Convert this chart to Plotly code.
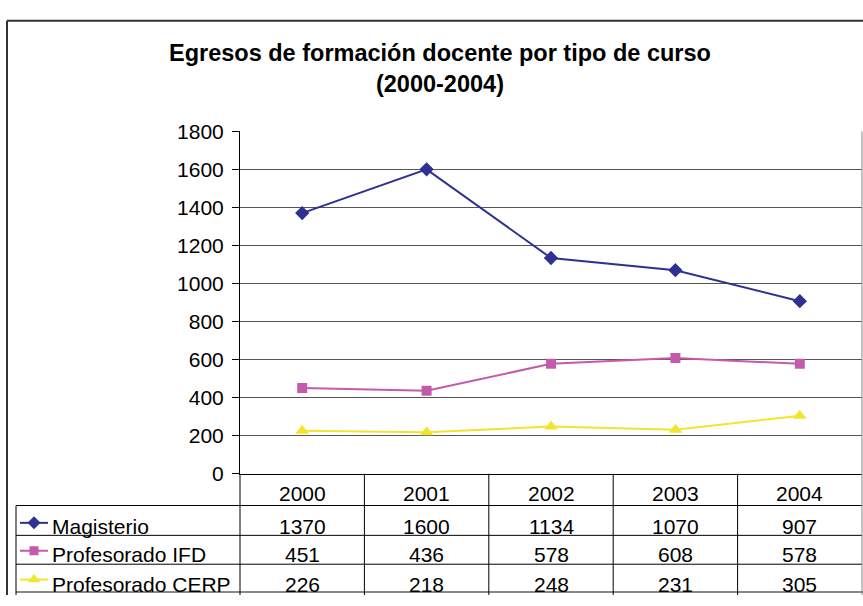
import plotly.graph_objects as go

# ---- data -------------------------------------------------------------
years = ["2000", "2001", "2002", "2003", "2004"]
series_names = ["Magisterio", "Profesorado IFD", "Profesorado CERP"]
magisterio = [1370, 1600, 1134, 1070, 907]
profesorado_ifd = [451, 436, 578, 608, 578]
profesorado_cerp = [226, 218, 248, 231, 305]
y_ticks = [0, 200, 400, 600, 800, 1000, 1200, 1400, 1600, 1800]

title_text = "Egresos de formación docente por tipo de curso<br>(2000-2004)"

# ---- styling ----------------------------------------------------------
W, H = 863, 606
FONT = "Liberation Sans, Arial, sans-serif"
colors = ["#2E3192", "#C45BAA", "#F2E530"]
symbols = ["diamond", "square", "triangle-up"]
marker_sizes = [11, 10, 12]
values = [magisterio, profesorado_ifd, profesorado_cerp]


def fx(px):
    return px / W


def fy(py):
    return 1 - py / H


# plot area and data-table geometry (pixels)
PL, PR, PT, PB = 240, 862, 124, 480
TABLE_LEFT = 16
row_lines = [513, 544, 574]
header_text_y = 501
row_text_y = [535, 564, 595]
key_y = [531, 560, 590]
band = (PR - PL) / len(years)

fig = go.Figure()

for name, vals, c, s, ms in zip(series_names, values, colors, symbols, marker_sizes):
    fig.add_trace(go.Scatter(
        x=years, y=vals, name=name, mode="lines+markers",
        line=dict(color=c, width=2),
        marker=dict(symbol=s, size=ms, color=c),
        showlegend=False, xaxis="x", yaxis="y",
    ))

# legend keys inside the data table (pixel overlay axes)
for i, (c, s, ms) in enumerate(zip(colors, symbols, marker_sizes)):
    fig.add_trace(go.Scatter(
        x=[20, 48], y=[key_y[i], key_y[i]], mode="lines",
        line=dict(color=c, width=2), showlegend=False,
        hoverinfo="skip", xaxis="x2", yaxis="y2",
    ))
    fig.add_trace(go.Scatter(
        x=[34], y=[key_y[i]], mode="markers",
        marker=dict(symbol=s, size=ms - 1, color=c), showlegend=False,
        hoverinfo="skip", xaxis="x2", yaxis="y2",
    ))

annotations = [
    dict(text="<b>" + title_text + "</b>", x=fx(440), y=fy(59), xref="paper",
         yref="paper", xanchor="center", yanchor="middle", showarrow=False,
         font=dict(family=FONT, size=23.5, color="#000")),
]

# data table header: one year per category column
for j, yr in enumerate(years):
    annotations.append(dict(
        text=yr, x=j, y=fy(header_text_y), xref="x", yref="paper",
        xanchor="center", yanchor="middle", showarrow=False,
        font=dict(family=FONT, size=21, color="#000")))

# data table rows: series label and values (placed by category index)
for i, (name, vals) in enumerate(zip(series_names, values)):
    annotations.append(dict(
        text=name, x=fx(50), y=fy(row_text_y[i]), xref="paper", yref="paper",
        xanchor="left", yanchor="middle", showarrow=False,
        font=dict(family=FONT, size=21, color="#000")))
    for j, v in enumerate(vals):
        annotations.append(dict(
            text=str(v), x=j, y=fy(row_text_y[i]), xref="x", yref="paper",
            xanchor="center", yanchor="middle", showarrow=False,
            font=dict(family=FONT, size=21, color="#000")))


def line(x0, y0, x1, y1, color="#000", width=1):
    return dict(type="line", xref="paper", yref="paper",
                x0=fx(x0), y0=fy(y0), x1=fx(x1), y1=fy(y1),
                line=dict(color=color, width=width))


shapes = [
    # outer chart border
    line(7, 9, 7, H, "#333", 2),
    line(7, 9, W, 9, "#333", 2),
    # plot area right edge
    line(PR, PT, PR, PB, "#888", 1),
    # table bottom
    line(TABLE_LEFT, 603, W, 603, "#888", 2),
    # table left edge
    line(TABLE_LEFT, row_lines[0], TABLE_LEFT, H, "#000", 1),
]
for ry in row_lines:
    shapes.append(line(TABLE_LEFT, ry, PR, ry))
for k in range(len(years) + 1):
    xk = PL + k * band
    shapes.append(line(xk, PB, xk, H, "#000" if k < len(years) else "#888", 1))

fig.update_layout(
    width=W, height=H,
    margin=dict(l=0, r=0, t=0, b=0),
    paper_bgcolor="#fff", plot_bgcolor="rgba(0,0,0,0)",
    font=dict(family=FONT, size=20, color="#000"),
    xaxis=dict(
        domain=[fx(PL), fx(PR)], type="category", categoryorder="array",
        categoryarray=years, range=[-0.5, len(years) - 0.5],
        showgrid=False, zeroline=False, showline=True, linecolor="#000",
        linewidth=1, ticks="", showticklabels=False,
        anchor="y",
    ),
    yaxis=dict(
        domain=[fy(PB), fy(PT)], range=[0, 1800], tickvals=y_ticks,
        showgrid=True, gridcolor="#555", gridwidth=1, zeroline=False,
        showline=True, linecolor="#000", linewidth=1,
        ticks="outside", ticklen=7, tickcolor="#000", ticklabelstandoff=4,
        tickfont=dict(family=FONT, size=21, color="#000"),
        anchor="x",
    ),
    xaxis2=dict(domain=[0, 1], range=[0, W], visible=False, anchor="y2"),
    yaxis2=dict(domain=[0, 1], range=[H, 0], visible=False, anchor="x2"),
    annotations=annotations,
    shapes=shapes,
    showlegend=False,
)

fig.write_html("out.html")
